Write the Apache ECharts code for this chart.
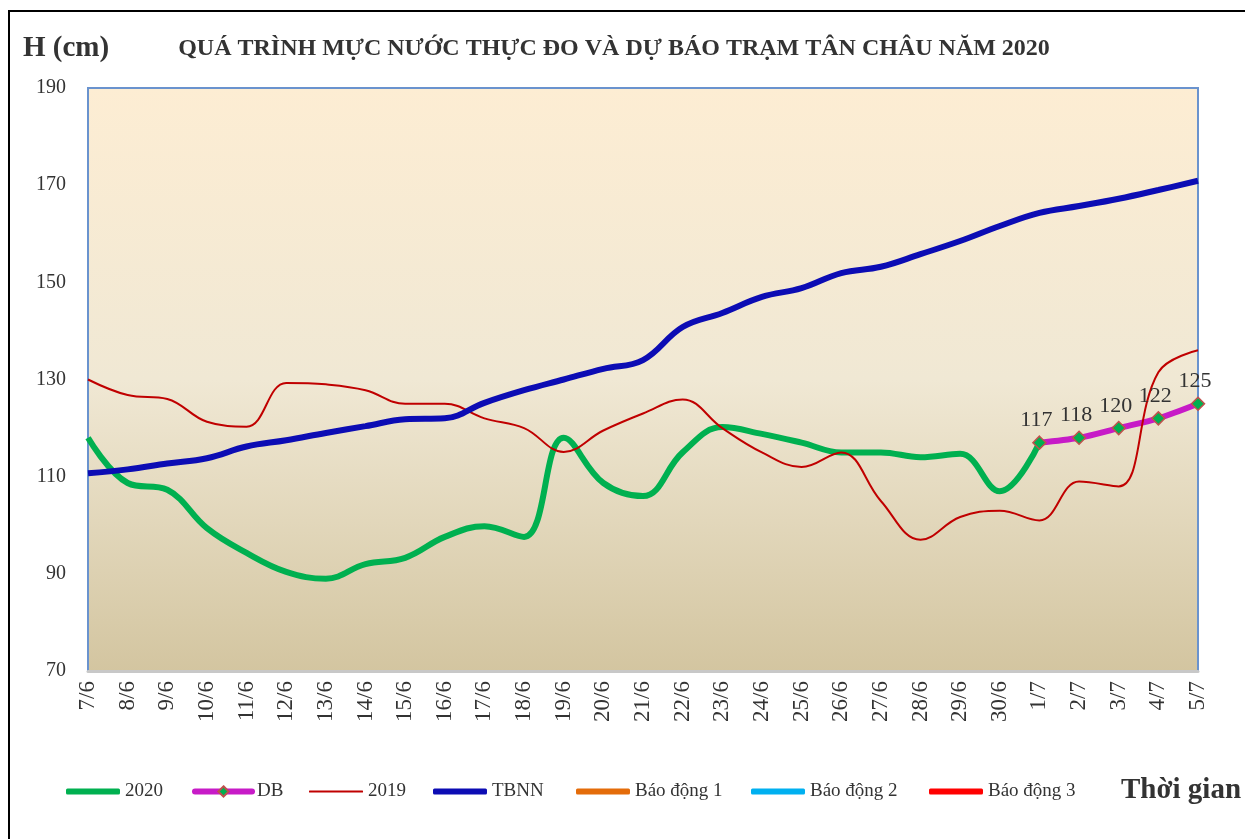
<!DOCTYPE html>
<html><head><meta charset="utf-8">
<script src="https://cdn.jsdelivr.net/npm/echarts@6/dist/echarts.min.js"></script>
<style>html,body{margin:0;padding:0;background:#fff}#c{width:1245px;height:839px}</style>
</head><body><div id="c"></div>
<script>
const categories = ['7/6','8/6','9/6','10/6','11/6','12/6','13/6','14/6','15/6','16/6','17/6','18/6','19/6','20/6','21/6','22/6','23/6','24/6','25/6','26/6','27/6','28/6','29/6','30/6','1/7','2/7','3/7','4/7','5/7'];
const s2020 = [118,108.7,107.3,99.4,94.3,90.4,89,92,93.3,97.6,99.8,97.6,118,108.7,106,115,120.2,118.8,117,115,115,114,114.7,107,117,null,null,null,null];
const sDB = [null,null,null,null,null,null,null,null,null,null,null,null,null,null,null,null,null,null,null,null,null,null,null,null,117,118,120,122,125];
const s2019 = [130,126.8,126,121.3,120.3,129.3,129,127.8,125,125,122,120,115.1,119.5,123,125.9,120,115,112,115,105,97,101.7,103,101,109,108,131.5,136];
const sTBNN = [110.7,111.5,112.7,113.8,116.2,117.5,119,120.4,121.8,122,125.2,127.8,130,132.2,134,140.8,143.7,147,148.8,151.9,153.2,155.8,158.5,161.6,164.3,165.7,167.2,169,170.9];
const sBD1 = [], sBD2 = [], sBD3 = [];
const yTicks = {min:70, max:190, interval:20};
const legendNames = ['2020','DB','2019','TBNN','Báo động 1','Báo động 2','Báo động 3'];

const serif = '"Liberation Serif","DejaVu Serif",serif';
const legendLeft = [66,192,309,433,576,751,929];
const legendIconH = [6,13,2,6,6,6,6];
const legends = legendNames.map((n,i)=>{
  const lg = {left:legendLeft[i], top:782, padding:0, itemWidth:54, itemHeight:legendIconH[i], itemGap:0,
    textStyle:{fontFamily:serif, fontSize:19, color:'#333'}, data:[n]};
  if (n==='DB') { lg.lineStyle = {width:6, cap:'round'}; lg.itemWidth = 57; }
  else lg.icon = 'roundRect';
  return lg;
});

const chart = echarts.init(document.getElementById('c'));
chart.setOption({
  animation:false,
  backgroundColor:'#fff',
  graphic:[
    {type:'rect', shape:{x:9,y:11,width:1300,height:900}, style:{fill:'none',stroke:'#000',lineWidth:2}, z:-1},
    {type:'text', left:23, top:34, style:{text:'H (cm)', font:'bold 29px '+serif, fill:'#333'}},
    {type:'text', left:1121, top:776, style:{text:'Thời gian', font:'bold 29px '+serif, fill:'#333'}}
  ],
  title:{text:'QUÁ TRÌNH MỰC NƯỚC THỰC ĐO VÀ DỰ BÁO TRẠM TÂN CHÂU NĂM 2020', left:609, textAlign:'center', top:32,
    textStyle:{fontFamily:serif, fontWeight:'bold', fontSize:24, color:'#333'}},
  legend:legends,
  grid:{left:88, top:88, right:47, bottom:168, show:true, borderColor:'#6A93CE', borderWidth:2,
    backgroundColor:{type:'linear',x:0,y:0,x2:0,y2:1,colorStops:[{offset:0,color:'#FDEDD3'},{offset:0.5,color:'#F0E8D4'},{offset:1,color:'#D3C5A0'}]}},
  xAxis:{type:'category', data:categories, boundaryGap:false,
    axisLine:{lineStyle:{color:'#C8C8C8', width:3}}, axisTick:{show:false},
    axisLabel:{rotate:90, fontFamily:serif, fontSize:23, color:'#333', margin:10, interval:0}},
  yAxis:{type:'value', min:yTicks.min, max:yTicks.max, interval:yTicks.interval,
    axisLine:{show:true, lineStyle:{color:'#6A93CE', width:2}}, axisTick:{show:false}, splitLine:{show:false},
    axisLabel:{fontFamily:serif, fontSize:20, color:'#333', margin:22}},
  series:[
    {name:'2020', type:'line', data:s2020, smooth:0.4, symbol:'none', lineStyle:{color:'#00B050', width:6}, itemStyle:{color:'#00B050'}},
    {name:'DB', type:'line', data:sDB, smooth:0.3, symbol:'diamond', symbolSize:13,
      lineStyle:{color:'#C71BC7', width:6}, itemStyle:{color:'#00B050', borderColor:'#C0504D', borderWidth:1.5},
      label:{show:true, position:'top', distance:4, offset:[-3,0], fontFamily:serif, fontSize:22, color:'#333'}},
    {name:'2019', type:'line', data:s2019, smooth:0.4, symbol:'none', lineStyle:{color:'#C00000', width:2}, itemStyle:{color:'#C00000'}},
    {name:'TBNN', type:'line', data:sTBNN, smooth:0.4, symbol:'none', lineStyle:{color:'#0C0CB4', width:6}, itemStyle:{color:'#0C0CB4'}},
    {name:'Báo động 1', type:'line', data:sBD1, symbol:'none', lineStyle:{color:'#E46C0A', width:6}, itemStyle:{color:'#E46C0A'}},
    {name:'Báo động 2', type:'line', data:sBD2, symbol:'none', lineStyle:{color:'#00B0F0', width:6}, itemStyle:{color:'#00B0F0'}},
    {name:'Báo động 3', type:'line', data:sBD3, symbol:'none', lineStyle:{color:'#FF0000', width:6}, itemStyle:{color:'#FF0000'}}
  ]
});
</script></body></html>
